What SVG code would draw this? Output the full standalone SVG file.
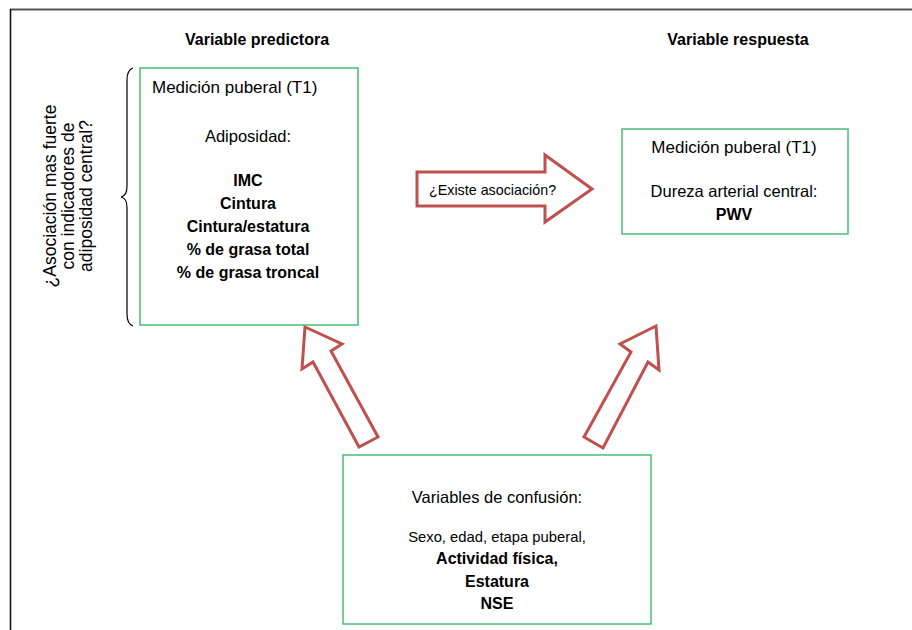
<svg xmlns="http://www.w3.org/2000/svg" width="912" height="630" viewBox="0 0 912 630">
<style>
.box{fill:#fff;stroke:#3dba6b;stroke-width:1.4}
.arr{fill:#fff;stroke:#c0504d;stroke-width:3;stroke-linejoin:miter}
text{font-family:"Liberation Sans",Arial,sans-serif;fill:#000}
.n{font-size:16.5px}
.h{font-size:17px}
.v{font-size:17.5px}
.s{font-size:14.8px}
.e{font-size:14.3px}
.b{font-size:16px;font-weight:bold}
.t{font-size:16px;font-weight:bold}
.m{text-anchor:middle}
</style>
<rect width="912" height="630" fill="#fff"/>
<line x1="10" y1="9.5" x2="912" y2="9.5" stroke="#555" stroke-width="2"/>
<line x1="10.5" y1="9" x2="10.5" y2="630" stroke="#111" stroke-width="1.6"/>
<text class="t m" x="257" y="45">Variable predictora</text>
<text class="t m" x="738" y="45">Variable respuesta</text>
<g id="question">
<text class="v m" transform="translate(56,196) rotate(-90)">¿Asociación mas fuerte</text>
<text class="v m" transform="translate(74,196) rotate(-90)">con indicadores de</text>
<text class="v m" transform="translate(92,196) rotate(-90)">adiposidad central?</text>
<path d="M133,68 Q127,70 127,80 L127,186 Q127,196 121,197 Q127,198 127,208 L127,314 Q127,324 133,326" fill="none" stroke="#000" stroke-width="1.2"/>
</g>
<g id="connectors">
<polygon class="arr" points="417,172 545,172 545,155 592,189 545,222 545,206 417,206"/>
<text class="e" x="429" y="195">¿Existe asociación?</text>
<polygon class="arr" points="305,327 342,344 331,351 378,437 359,447 313,362 302,369"/>
<polygon class="arr" points="656,326 620,344 631,352 584,437 603,448 648,362 659,370"/>
</g>
<g id="predictor">
<rect class="box" x="140" y="68" width="218" height="257"/>
<text class="h" x="152" y="93">Medición puberal (T1)</text>
<text class="n m" x="248" y="142">Adiposidad:</text>
<text class="b m" x="248" y="186">IMC</text>
<text class="b m" x="248" y="209">Cintura</text>
<text class="b m" x="248" y="232">Cintura/estatura</text>
<text class="b m" x="248" y="255">% de grasa total</text>
<text class="b m" x="248" y="278">% de grasa troncal</text>
</g>
<g id="response">
<rect class="box" x="622" y="129" width="226" height="105"/>
<text class="h m" x="734" y="153">Medición puberal (T1)</text>
<text class="n m" x="734" y="197">Dureza arterial central:</text>
<text class="b m" x="734" y="220">PWV</text>
</g>
<g id="confounders">
<rect class="box" x="343" y="455" width="308" height="169"/>
<text class="n m" x="497" y="503">Variables de confusión:</text>
<text class="s m" x="497" y="542">Sexo, edad, etapa puberal,</text>
<text class="b m" x="497" y="564">Actividad física,</text>
<text class="b m" x="497" y="587">Estatura</text>
<text class="b m" x="497" y="609">NSE</text>
</g>
</svg>
